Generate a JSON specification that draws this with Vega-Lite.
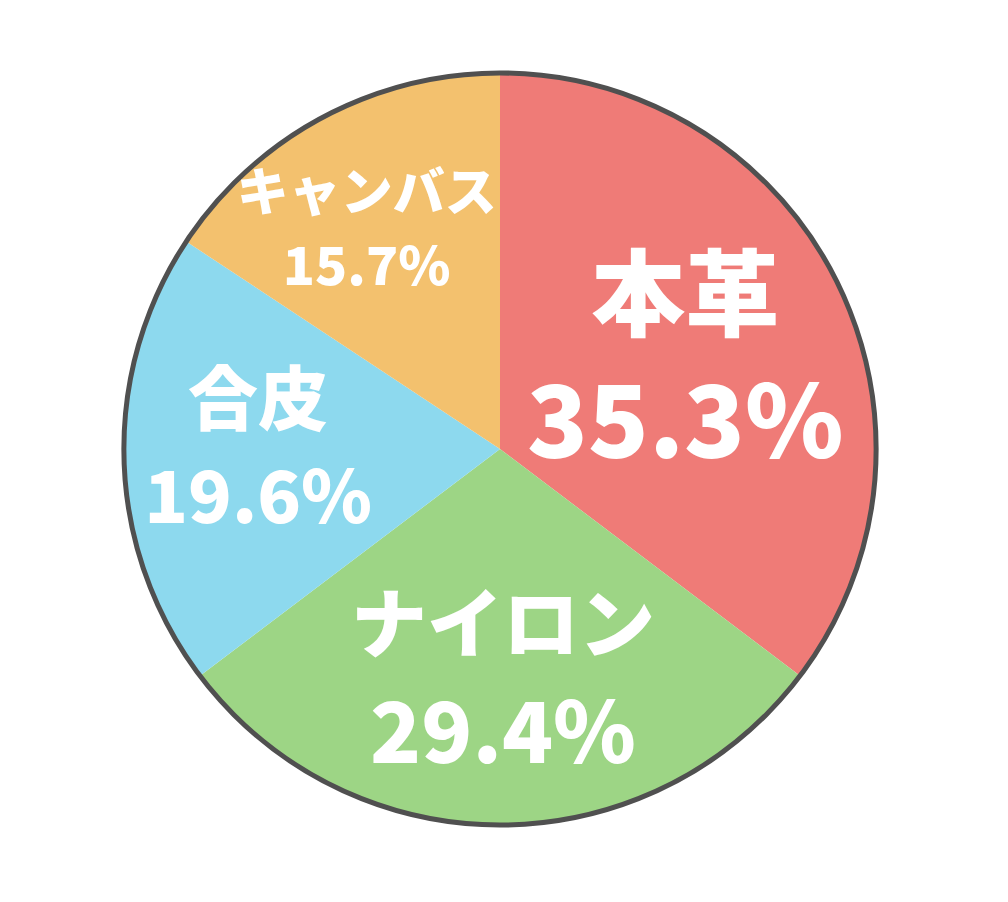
{
  "$schema": "https://vega.github.io/schema/vega-lite/v6.json",
  "width": 1000,
  "height": 898,
  "autosize": "none",
  "padding": 0,
  "background": "white",
  "view": {"stroke": null},
  "data": {
    "values": [
      {"material": "本革", "share": 0.353, "rank": 1},
      {"material": "ナイロン", "share": 0.294, "rank": 2},
      {"material": "合皮", "share": 0.196, "rank": 3},
      {"material": "キャンバス", "share": 0.157, "rank": 4}
    ]
  },
  "encoding": {
    "theta": {"field": "share", "type": "quantitative", "stack": true},
    "order": {"field": "rank", "type": "quantitative"}
  },
  "layer": [
    {
      "mark": {"type": "arc", "outerRadius": 376, "stroke": null},
      "encoding": {
        "color": {
          "field": "material",
          "type": "nominal",
          "scale": {
            "domain": ["本革", "ナイロン", "合皮", "キャンバス"],
            "range": ["#EF7B77", "#9DD585", "#8DD9EE", "#F3C16E"]
          },
          "legend": null
        }
      }
    },
    {
      "mark": {"type": "arc", "outerRadius": 376, "fill": null, "stroke": "#505050", "strokeWidth": 5},
      "encoding": {"theta": {"aggregate": "sum", "field": "share", "type": "quantitative"}, "order": {"value": 0}}
    },
    {
      "mark": {"type": "text", "radius": 207, "dy": -56, "fontSize": 94, "font": "Noto Sans CJK JP", "fontWeight": 900, "fill": "white"},
      "encoding": {"text": {"condition": {"test": "datum.material == '本革'", "field": "material"}, "value": ""}}
    },
    {
      "mark": {"type": "text", "radius": 207, "dy": 71, "fontSize": 100, "font": "Noto Sans CJK JP", "fontWeight": 900, "fill": "white"},
      "encoding": {"text": {"condition": {"test": "datum.material == '本革'", "field": "share", "format": ".1%"}, "value": ""}}
    },
    {
      "mark": {"type": "text", "radius": 231, "dx": 3, "dy": -51, "fontSize": 76, "font": "Noto Sans CJK JP", "fontWeight": 900, "fill": "white"},
      "encoding": {"text": {"condition": {"test": "datum.material == 'ナイロン'", "field": "material"}, "value": ""}}
    },
    {
      "mark": {"type": "text", "radius": 231, "dx": 3, "dy": 58, "fontSize": 84, "font": "Noto Sans CJK JP", "fontWeight": 900, "fill": "white"},
      "encoding": {"text": {"condition": {"test": "datum.material == 'ナイロン'", "field": "share", "format": ".1%"}, "value": ""}}
    },
    {
      "mark": {"type": "text", "radius": 242, "dy": -53, "fontSize": 70, "font": "Noto Sans CJK JP", "fontWeight": 900, "fill": "white"},
      "encoding": {"text": {"condition": {"test": "datum.material == '合皮'", "field": "material"}, "value": ""}}
    },
    {
      "mark": {"type": "text", "radius": 242, "dy": 44, "fontSize": 72, "font": "Noto Sans CJK JP", "fontWeight": 900, "fill": "white"},
      "encoding": {"text": {"condition": {"test": "datum.material == '合皮'", "field": "share", "format": ".1%"}, "value": ""}}
    },
    {
      "mark": {"type": "text", "radius": 250, "dx": -15, "dy": -34, "fontSize": 52, "font": "Noto Sans CJK JP", "fontWeight": 900, "fill": "white"},
      "encoding": {"text": {"condition": {"test": "datum.material == 'キャンバス'", "field": "material"}, "value": ""}}
    },
    {
      "mark": {"type": "text", "radius": 250, "dx": -15, "dy": 40, "fontSize": 53, "font": "Noto Sans CJK JP", "fontWeight": 900, "fill": "white"},
      "encoding": {"text": {"condition": {"test": "datum.material == 'キャンバス'", "field": "share", "format": ".1%"}, "value": ""}}
    }
  ]
}
